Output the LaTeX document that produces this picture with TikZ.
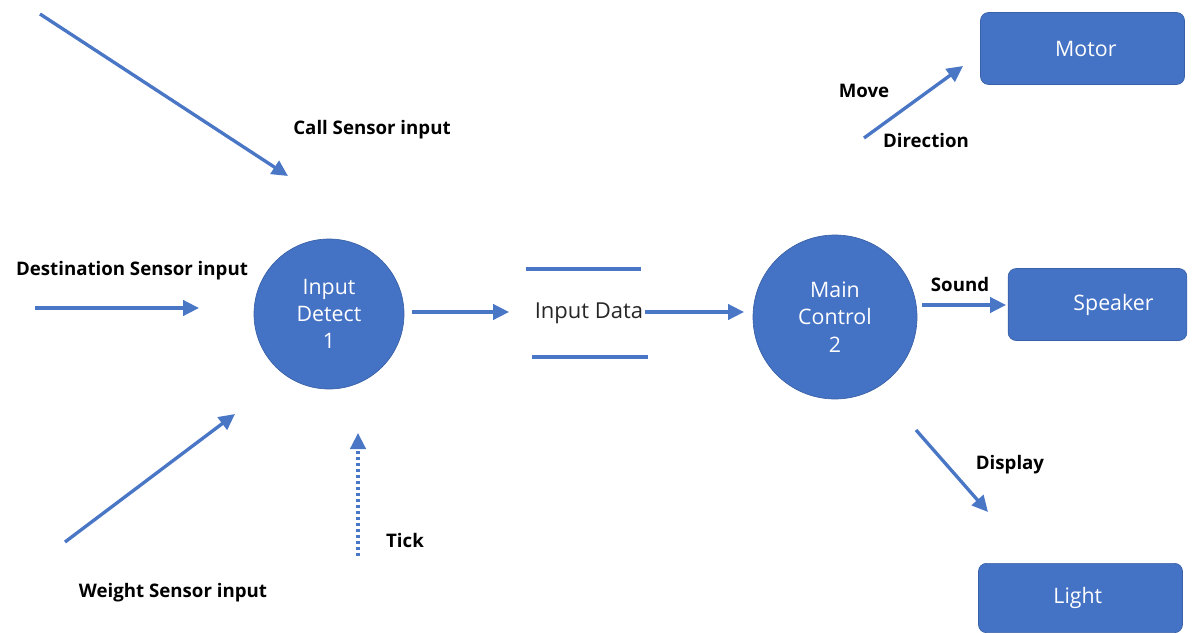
\documentclass[tikz,border=0pt]{standalone}
\usepackage{fontspec}
\setmainfont{Open Sans}
\usetikzlibrary{arrows.meta}
\definecolor{ofblue}{HTML}{4472C4}
\definecolor{arblue}{HTML}{4A76C6}
\tikzset{
  proc/.style={circle, fill=ofblue, draw=ofblue!85!black, line width=0.5pt, text=white, align=center, font=\fontsize{16}{20.5}\selectfont},
  term/.style={rectangle, rounded corners=6pt, fill=ofblue, draw=ofblue!85!black, line width=0.5pt, text=white, font=\fontsize{16}{19}\selectfont},
  flow/.style={draw=arblue, line width=2.5pt, -{Triangle[length=12pt,width=11.5pt]}},
  tickflow/.style={draw=arblue, line width=2.5pt, dotted, -{Triangle[length=12pt,width=11.5pt]}},
  lbl/.style={font=\bfseries\fontsize{14}{16}\selectfont, text=black},
  storeline/.style={draw=arblue, line width=3.2pt},
}
\begin{document}
\begin{tikzpicture}[x=0.75pt, y=-0.75pt]
\useasboundingbox (0,0) rectangle (1192,632);
% processes
\node[proc, minimum size=112.5pt, inner sep=0pt] (p1) at (329,314) {Input\\Detect\\1};
\node[proc, minimum size=123pt, inner sep=0pt] (p2) at (835,317) {Main\\Control\\2};
% terminators
\node[term, minimum width=153pt, minimum height=54pt] (motor) at (1082.5,48.5) {\hspace*{5pt}Motor};
\node[term, minimum width=134pt, minimum height=54pt] (speaker) at (1097.5,304.5) {\hspace*{24pt}Speaker};
\node[term, minimum width=153pt, minimum height=52pt] (light) at (1080.5,598) {\hspace*{-4pt}Light};
% data store
\node[font=\fontsize{16.5}{19}\selectfont, text=black!85] (store) at (589,313) {Input Data};
\coordinate (st1) at (526,269); \coordinate (st2) at (641,269);
\coordinate (sb1) at (532,357); \coordinate (sb2) at (648,357);
\draw[storeline] (st1) -- (st2);
\draw[storeline] (sb1) -- (sb2);
% flow endpoints
\coordinate (c0) at (40,14); \coordinate (c1) at (288,176);
\coordinate (d0) at (35,308); \coordinate (d1) at (199,308);
\coordinate (w0) at (65,542); \coordinate (w1) at (235,414);
\coordinate (t0) at (358,556); \coordinate (t1) at (358,433);
\coordinate (a0) at (412,312); \coordinate (a1) at (509,312);
\coordinate (b0) at (645,312); \coordinate (b1) at (744,312);
\coordinate (m0) at (864,138); \coordinate (m1) at (963,66);
\coordinate (s0) at (922,305); \coordinate (s1) at (1006,305);
\coordinate (l0) at (916,430); \coordinate (l1) at (988,512);
\draw[flow] (c0) -- (c1);
\draw[flow] (d0) -- (d1);
\draw[flow] (w0) -- (w1);
\draw[tickflow] (t0) -- (t1);
\draw[flow] (a0) -- (a1);
\draw[flow] (b0) -- (b1);
\draw[flow] (m0) -- (m1);
\draw[flow] (s0) -- (s1);
\draw[flow] (l0) -- (l1);
% labels
\node[lbl] (lcall) at (372,130) {Call Sensor input};
\node[lbl] (ldest) at (132,271) {Destination Sensor input};
\node[lbl] (lweight) at (173,593) {Weight Sensor input};
\node[lbl] (ltick) at (405,540) {Tick};
\node[lbl] (lmove) at (864,91) {Move};
\node[lbl] (ldir) at (926,140) {Direction};
\node[lbl] (lsound) at (960,284) {Sound};
\node[lbl] (ldisp) at (1010,465) {Display};
\end{tikzpicture}
\end{document}
